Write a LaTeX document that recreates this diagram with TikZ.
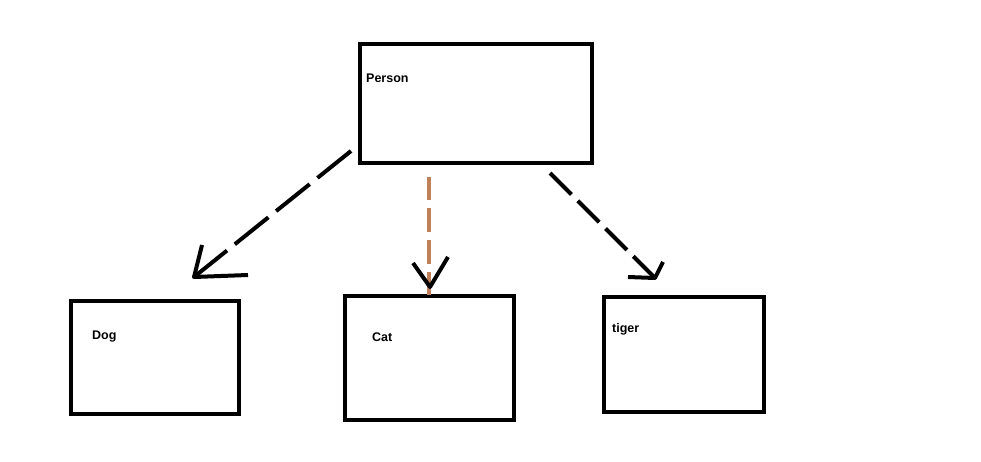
\documentclass[tikz,border=0pt]{standalone}
\usepackage{fontspec}
\setmainfont{Liberation Sans}
\begin{document}
\begin{tikzpicture}[x=1pt,y=-1pt,
  classbox/.style={draw=black,line width=4pt,inner sep=0pt,outer sep=0pt},
  classname/.style={anchor=base west,inner sep=0pt,font=\fontsize{12.5}{15}\selectfont\bfseries},
  headstroke/.style={line width=4pt,line join=round}
]
\useasboundingbox[fill=white] (0,0) rectangle (981,462);

% class boxes
\node[classbox,minimum width=232pt,minimum height=119pt] (person) at (476,103.5) {};
\node[classbox,minimum width=168pt,minimum height=113pt] (dog) at (155,357.5) {};
\node[classbox,minimum width=169pt,minimum height=124pt] (cat) at (429.5,358) {};
\node[classbox,minimum width=160pt,minimum height=115pt] (tiger) at (684,354.5) {};

% class names
\node[classname] (personname) at (366,83) {Person};
\node[classname] (dogname) at (92,339) {Dog};
\node[classname] (catname) at (372,341) {Cat};
\node[classname] (tigername) at (612,332) {tiger};

% link endpoints
\coordinate (dogfrom) at (351,151);
\coordinate (dogtip) at (194,277);
\coordinate (catfrom) at (429,177);
\coordinate (cattip) at (429,295);
\coordinate (tigerfrom) at (550,173);
\coordinate (tigertip) at (655,278);

% Person -> Dog
\draw[line width=4pt,dash pattern=on 43pt off 10pt] (dogfrom) -- (dogtip);
\draw[headstroke] (202,245) -- (dogtip) -- (248,275);

% Person -> Cat
\draw[line width=3.5pt,color={rgb,255:red,192;green,128;blue,90},dash pattern=on 23.5pt off 8pt] (catfrom) -- (cattip);
\draw[headstroke] (413,263) -- (430,287) -- (448,257);

% Person -> tiger
\draw[line width=4pt,dash pattern=on 30.25pt off 9pt] (tigerfrom) -- (tigertip);
\draw[headstroke] (628,277) -- (tigertip) -- (663,262);
\end{tikzpicture}
\end{document}
